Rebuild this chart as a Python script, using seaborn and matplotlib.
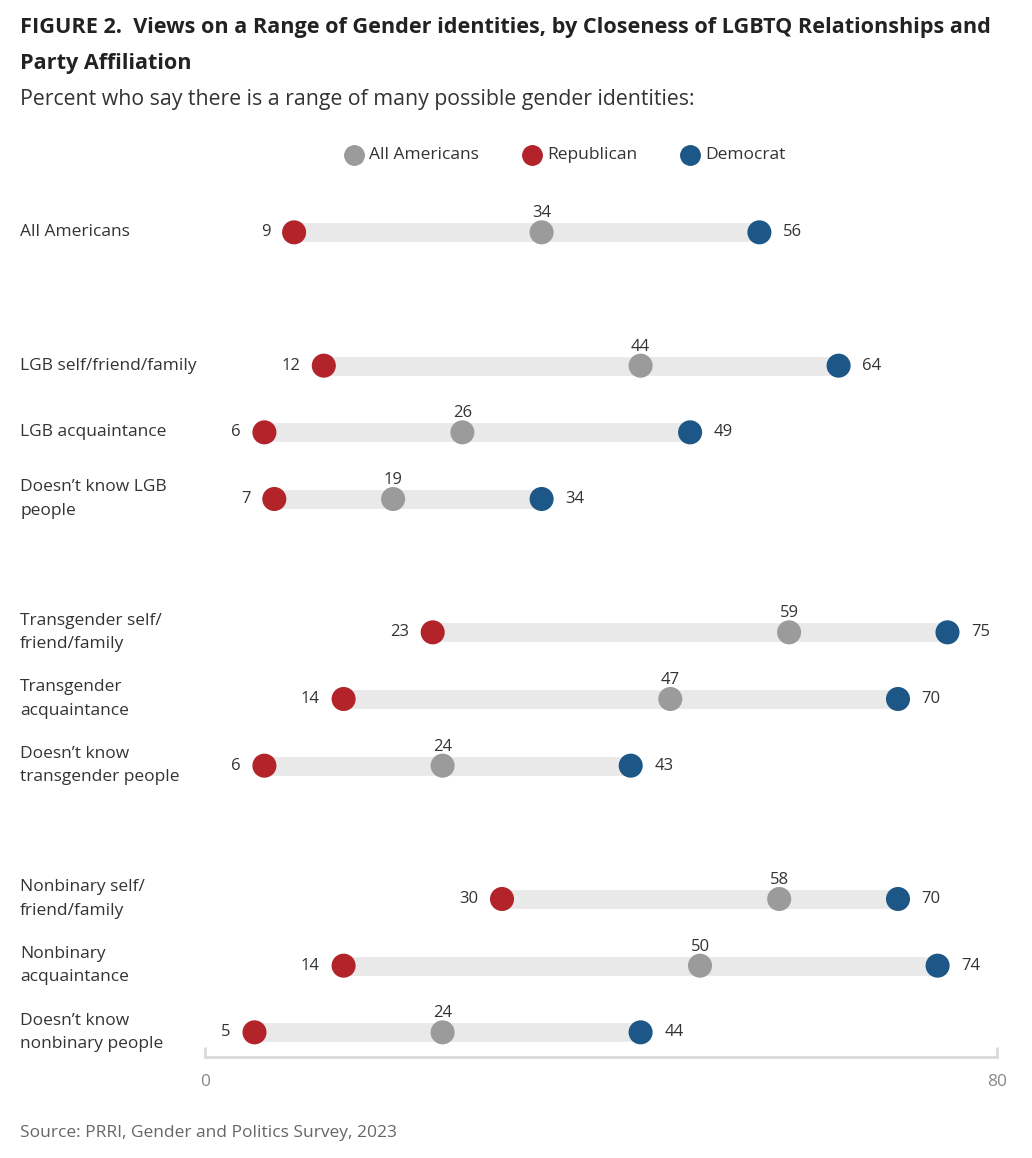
import matplotlib
matplotlib.use("Agg")
import matplotlib.pyplot as plt
import matplotlib.transforms as mtransforms
import matplotlib.lines as mlines
import seaborn as sns
import pandas as pd

categories = [
    "All Americans",
    "LGB self/friend/family",
    "LGB acquaintance",
    "Doesn\u2019t know LGB\npeople",
    "Transgender self/\nfriend/family",
    "Transgender\nacquaintance",
    "Doesn\u2019t know\ntransgender people",
    "Nonbinary self/\nfriend/family",
    "Nonbinary\nacquaintance",
    "Doesn\u2019t know\nnonbinary people",
]
row_pos = [0, 2, 3, 4, 6, 7, 8, 10, 11, 12]
all_americans = [34, 44, 26, 19, 59, 47, 24, 58, 50, 24]
republican = [9, 12, 6, 7, 23, 14, 6, 30, 14, 5]
democrat = [56, 64, 49, 34, 75, 70, 43, 70, 74, 44]
series_names = ["All Americans", "Republican", "Democrat"]
x_ticks = [0, 80]

colors = {"All Americans": "#9b9b9b", "Republican": "#b2232a", "Democrat": "#1c5787"}
txt = "#333333"

sns.set_theme(style="white")
plt.rcParams["font.family"] = ["Open Sans", "DejaVu Sans"]

fig = plt.figure(figsize=(10.32, 11.58), dpi=100)
ax = fig.add_axes([205/1032, 1 - 1057/1158, (997-205)/1032, (1057-199)/1158])

# bands
for y, r, d in zip(row_pos, republican, democrat):
    ax.hlines(y, r, d, color="#e8e9e8", linewidth=13.5, capstyle="butt", zorder=1)

rows = []
for i, y in enumerate(row_pos):
    rows.append({"y": y, "value": all_americans[i], "series": "All Americans"})
    rows.append({"y": y, "value": republican[i], "series": "Republican"})
    rows.append({"y": y, "value": democrat[i], "series": "Democrat"})
df = pd.DataFrame(rows)

sns.scatterplot(data=df, x="value", y="y", hue="series", palette=colors,
                hue_order=series_names, s=300, edgecolor="none", legend=False,
                ax=ax, zorder=3)

blend = mtransforms.blended_transform_factory(fig.transFigure, ax.transData)
fs = 12
for i, y in enumerate(row_pos):
    ax.annotate(str(all_americans[i]), (all_americans[i], y), xytext=(0, 8),
                textcoords="offset points", ha="center", va="bottom", fontsize=fs, color=txt)
    ax.annotate(str(republican[i]), (republican[i], y), xytext=(-17, 0),
                textcoords="offset points", ha="right", va="center", fontsize=fs, color=txt)
    ax.annotate(str(democrat[i]), (democrat[i], y), xytext=(17, 0),
                textcoords="offset points", ha="left", va="center", fontsize=fs, color=txt)
    fig.text(20/1032, y, categories[i], transform=blend,
             ha="left", va="center", fontsize=12.5, color=txt, linespacing=1.6)

ax.set_xlim(0, 80)
ax.set_ylim(12.37, -0.5)
ax.set_yticks([])
ax.set_xticks(x_ticks)
ax.set_xticklabels([str(t) for t in x_ticks], color="#888888", fontsize=12.5)
for s in ["top", "left", "right"]:
    ax.spines[s].set_visible(False)
ax.spines["bottom"].set_color("#d9d9d9")
ax.spines["bottom"].set_linewidth(2)
ax.tick_params(axis="x", bottom=True, length=7, width=2, color="#d9d9d9", pad=12, direction="in")
ax.set_xlabel("")
ax.set_ylabel("")

# titles
fig.text(20/1032, 1 - 28/1158, "FIGURE 2.  Views on a Range of Gender identities, by Closeness of LGBTQ Relationships and",
         fontsize=15.6, fontweight="bold", color="#222222", va="center", ha="left")
fig.text(20/1032, 1 - 64/1158, "Party Affiliation",
         fontsize=15.6, fontweight="bold", color="#222222", va="center", ha="left")
fig.text(20/1032, 1 - 100/1158, "Percent who say there is a range of many possible gender identities:",
         fontsize=15.3, color=txt, va="center", ha="left")

# legend
leg_items = [("All Americans", 354), ("Republican", 532), ("Democrat", 690)]
for name, px in leg_items:
    fig.lines.append(mlines.Line2D([px/1032], [1 - 155/1158], marker="o", markersize=14,
                                   color=colors[name], linestyle="none", transform=fig.transFigure))
    fig.text((px + 15)/1032, 1 - 155/1158, name, fontsize=12.5, color=txt, va="center", ha="left")

fig.text(20/1032, 1 - 1133/1158, "Source: PRRI, Gender and Politics Survey, 2023",
         fontsize=12.5, color="#666666", va="center", ha="left")

fig.savefig("out.png", dpi=100)
